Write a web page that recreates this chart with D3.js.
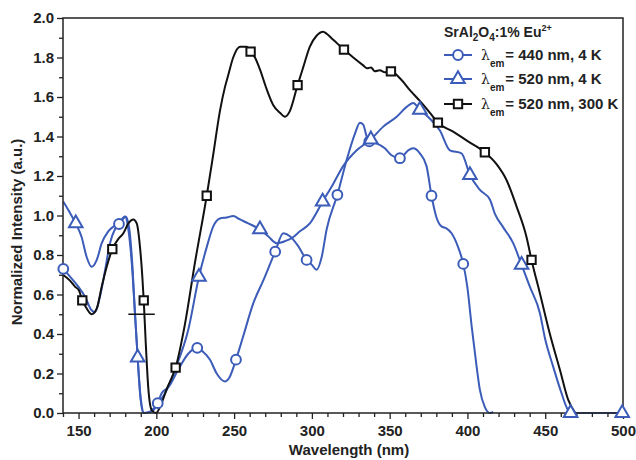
<!DOCTYPE html>
<html><head><meta charset="utf-8">
<script src="https://cdn.jsdelivr.net/npm/d3@7"></script>
<style>
html,body{margin:0;padding:0;background:#fff;}
text{font-family:"Liberation Sans",Arial,sans-serif;font-weight:bold;fill:#222;}
</style></head>
<body><svg id="c" width="636" height="460"></svg>
<script>
// ---- data ----
const xTicks = [150,200,250,300,350,400,450,500];
const yTicks = [0.0,0.2,0.4,0.6,0.8,1.0,1.2,1.4,1.6,1.8,2.0];

const em440_4K = [[140.2,0.73],[144.5,0.69],[149.8,0.64],[154.1,0.59],[158.4,0.52],[160.6,0.51],[163.8,0.59],[167,0.72],[170.2,0.86],[173.4,0.93],[176,0.957],[178.8,0.985],[180.3,0.995],[182.4,0.945],[184.5,0.76],[186.3,0.50],[188.4,0.23],[190.1,0.066],[192.2,0.0],[197,0.007],[200.9,0.05],[203.4,0.10],[207.7,0.13],[214.1,0.22],[220.5,0.30],[226.3,0.33],[230,0.31],[234.5,0.27],[238.8,0.20],[244.1,0.16],[247,0.18],[251.2,0.27],[255.9,0.39],[262.3,0.555],[268.7,0.67],[276.4,0.817],[281.6,0.91],[285.9,0.895],[291.2,0.845],[296.6,0.775],[300,0.75],[303,0.725],[306.3,0.79],[309.5,0.93],[316.4,1.105],[322.3,1.28],[327.7,1.415],[330.9,1.47],[333,1.46],[335.2,1.40],[336.9,1.375],[341.6,1.365],[346.9,1.34],[351.2,1.305],[356.6,1.29],[361.9,1.33],[365.1,1.34],[369.4,1.315],[373.7,1.25],[376.9,1.10],[380.1,0.99],[383.3,0.945],[386.5,0.935],[389.8,0.91],[394,0.84],[397.3,0.755],[399.9,0.64],[402.7,0.44],[405.9,0.235],[408,0.117],[411.2,0.03],[414.4,0.0],[416.6,0.005]];
const em440_4K_markers = [[140.2,0.73],[176,0.957],[200.9,0.05],[226.3,0.33],[251.2,0.27],[276.4,0.817],[296.6,0.775],[316.4,1.105],[336.9,1.375],[356.6,1.29],[376.9,1.10],[397.3,0.755]];

const em520_4K = [[140.2,1.07],[144,1.02],[148.2,0.96],[152,0.89],[155.2,0.79],[158.4,0.74],[161.7,0.775],[164.9,0.86],[169.1,0.92],[173.4,0.95],[177.7,0.98],[179.8,0.995],[182,0.93],[184.2,0.76],[186.3,0.50],[188,0.28],[189.5,0.10],[191.6,0.0],[195.9,0.007],[199.1,0.03],[205.6,0.10],[212,0.22],[220.5,0.42],[227.4,0.69],[232.4,0.84],[236.6,0.945],[240.9,0.985],[245.2,0.99],[249.4,0.997],[253.8,0.98],[259.1,0.96],[266.6,0.93],[271.9,0.895],[277.3,0.86],[282.7,0.87],[287,0.885],[292.3,0.92],[298.7,0.96],[306.9,1.07],[313.7,1.16],[320.1,1.25],[328.8,1.33],[337.9,1.385],[345.9,1.45],[354.5,1.50],[360.9,1.55],[365.1,1.57],[369.4,1.535],[375.9,1.49],[382.3,1.43],[388.7,1.33],[396.2,1.315],[401.6,1.205],[408,1.13],[414.5,1.08],[417.6,1.01],[423,0.94],[429.4,0.86],[434.8,0.75],[440.1,0.64],[446.6,0.505],[449.8,0.38],[455.1,0.235],[460.5,0.10],[463.7,0.03],[466.3,0.0],[500,0.0]];
const em520_4K_markers = [[148.2,0.96],[188,0.28],[227.4,0.69],[266.6,0.93],[306.9,1.07],[337.9,1.385],[369.4,1.535],[401.6,1.205],[434.8,0.75],[466.3,0.0],[499.5,0.0]];

const em520_300K = [[140,0.70],[144.5,0.67],[147.7,0.64],[150.3,0.62],[152.4,0.57],[155.2,0.53],[158.4,0.50],[161.7,0.53],[164.9,0.64],[168.1,0.74],[171.7,0.83],[175.5,0.88],[178.8,0.91],[182,0.96],[185.2,0.98],[187.4,0.96],[189.5,0.84],[191,0.69],[191.9,0.57],[193.1,0.37],[194.8,0.13],[197,0.015],[199.8,0.0],[203.4,0.05],[206.6,0.12],[212.4,0.23],[218.4,0.45],[224.8,0.76],[232.4,1.10],[236.6,1.31],[240.9,1.53],[244.1,1.65],[246.2,1.71],[249.4,1.80],[253.8,1.855],[258.1,1.855],[260.6,1.83],[263.4,1.80],[266.6,1.74],[270.9,1.64],[275.1,1.56],[279.5,1.52],[282.7,1.50],[285.9,1.53],[290.8,1.66],[294.4,1.75],[298.7,1.855],[303,1.91],[307.3,1.93],[309.5,1.92],[313.7,1.89],[320.6,1.84],[326.6,1.80],[333,1.76],[335.5,1.745],[338,1.75],[340.5,1.73],[343.7,1.735],[347,1.725],[350.8,1.73],[356.6,1.695],[363,1.635],[369.4,1.58],[375.9,1.52],[381,1.47],[390.8,1.425],[399.4,1.38],[411.2,1.32],[418.7,1.26],[425.1,1.18],[431.6,1.045],[438,0.89],[441.2,0.775],[446.6,0.605],[453,0.40],[459.4,0.22],[464.8,0.066],[469.3,0.0]];
const em520_300K_markers = [[152.4,0.57],[171.7,0.83],[191.9,0.57],[212.4,0.23],[232.4,1.10],[260.6,1.83],[290.8,1.66],[320.6,1.84],[350.8,1.73],[381,1.47],[411.2,1.32],[441.2,0.775]];

const halfLevel = [[182,0.5],[199,0.5]];
const legendLabels = ["440 nm, 4 K","520 nm, 4 K","520 nm, 300 K"];

// ---- layout ----
const W=636,H=460, m={l:63,r:13,t:18,b:47};
const blue="#3b5cb8", black="#111";
const svg=d3.select("#c");
const x=d3.scaleLinear().domain([140,500]).range([m.l,W-m.r]);
const y=d3.scaleLinear().domain([0,2]).range([H-m.b,m.t]);

svg.append("defs").append("clipPath").attr("id","clip")
  .append("rect").attr("x",m.l).attr("y",m.t-2).attr("width",W-m.l-m.r).attr("height",H-m.t-m.b+4);

const line=d3.line().x(d=>x(d[0])).y(d=>y(d[1])).curve(d3.curveMonotoneX);
const g=svg.append("g").attr("clip-path","url(#clip)");
g.append("path").datum(em440_4K).attr("d",line).attr("fill","none").attr("stroke",blue).attr("stroke-width",2);
g.append("path").datum(em520_4K).attr("d",line).attr("fill","none").attr("stroke",blue).attr("stroke-width",2);
g.append("path").datum(em520_300K).attr("d",line).attr("fill","none").attr("stroke",black).attr("stroke-width",2);
g.append("path").datum(halfLevel).attr("d",d3.line().x(d=>x(d[0])).y(d=>y(d[1]))).attr("stroke",black).attr("stroke-width",1.5);

function markers(data,shape,color,size){
  const sym=d3.symbol().type(shape).size(size);
  svg.append("g").selectAll("path").data(data).join("path")
    .attr("d",sym).attr("transform",d=>`translate(${x(d[0])},${y(d[1])})`)
    .attr("fill","#fff").attr("stroke",color).attr("stroke-width",2);
}

// axes
const ax=svg.append("g").attr("transform",`translate(0,${H-m.b})`);
ax.call(d3.axisBottom(x).tickValues(xTicks).tickSize(6).tickPadding(6).tickFormat(d3.format("d")));
const axMinor=svg.append("g").attr("transform",`translate(0,${H-m.b})`);
axMinor.call(d3.axisBottom(x).tickValues(d3.range(140,501,10).filter(v=>v%50)).tickSize(4).tickFormat(""));
const ay=svg.append("g").attr("transform",`translate(${m.l},0)`);
ay.call(d3.axisLeft(y).tickValues(yTicks).tickSize(6).tickPadding(3).tickFormat(d3.format(".1f")));
const ayMinor=svg.append("g").attr("transform",`translate(${m.l},0)`);
ayMinor.call(d3.axisLeft(y).tickValues(d3.range(0.1,2,0.2)).tickSize(4).tickFormat(""));
[ax,axMinor,ay,ayMinor].forEach(a=>{
  a.select(".domain").remove();
  a.selectAll("line").attr("stroke","#222").attr("stroke-width",1.3);
  a.selectAll("text").style("font-size","15px").style("font-family","Liberation Sans, Arial, sans-serif").style("font-weight","bold").attr("fill","#222");
});
svg.append("rect").attr("x",m.l).attr("y",m.t).attr("width",W-m.l-m.r).attr("height",H-m.t-m.b)
  .attr("fill","none").attr("stroke","#222").attr("stroke-width",1.5);

markers(em440_4K_markers,d3.symbolCircle,blue,75);
markers(em520_4K_markers,d3.symbolTriangle,blue,80);
markers(em520_300K_markers,d3.symbolSquare,black,70);

// axis titles
svg.append("text").attr("x",349).attr("y",455).attr("text-anchor","middle").style("font-size","15px").text("Wavelength (nm)");
svg.append("text").attr("transform","translate(22,232) rotate(-90)").attr("text-anchor","middle").style("font-size","15px").text("Normalized Intensity (a.u.)");

// legend
const tt=svg.append("text").attr("x",444).attr("y",37).style("font-size","14px");
tt.append("tspan").text("SrAl");
tt.append("tspan").attr("dy",4).style("font-size","10px").text("2");
tt.append("tspan").attr("dy",-4).text("O");
tt.append("tspan").attr("dy",4).style("font-size","10px").text("4");
tt.append("tspan").attr("dy",-4).text(":1% Eu");
tt.append("tspan").attr("dy",-6).style("font-size","9px").text("2+");

const legY=[55,79,104];
const legShapes=[d3.symbolCircle,d3.symbolTriangle,d3.symbolSquare];
const legColors=[blue,blue,black];
const legSizes=[75,80,70];
legendLabels.forEach((lab,i)=>{
  const yy=legY[i];
  svg.append("line").attr("x1",444).attr("x2",472).attr("y1",yy).attr("y2",yy).attr("stroke",legColors[i]).attr("stroke-width",2);
  svg.append("path").attr("d",d3.symbol().type(legShapes[i]).size(legSizes[i])()).attr("transform",`translate(458,${yy})`)
    .attr("fill","#fff").attr("stroke",legColors[i]).attr("stroke-width",2);
  const t=svg.append("text").attr("x",481).attr("y",yy+5).style("font-size","15px");
  t.append("tspan").style("font-weight","normal").style("font-family","DejaVu Serif, serif").style("font-size","14px").text("λ");
  t.append("tspan").attr("dy",7).style("font-size","10px").text("em");
  t.append("tspan").attr("dy",-7).attr("dx",1).text("= "+lab);
});
</script></body></html>
